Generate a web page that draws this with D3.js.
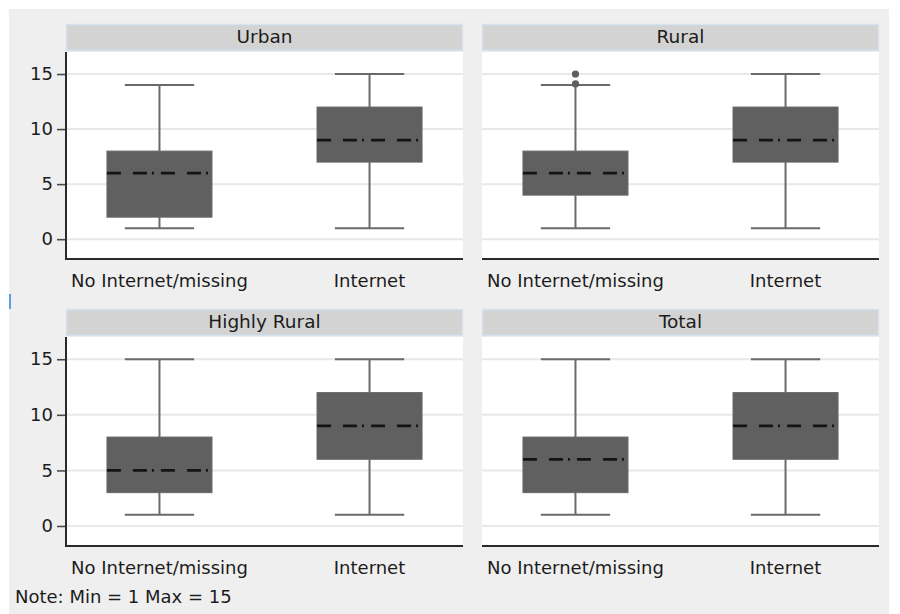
<!DOCTYPE html>
<html>
<head>
<meta charset="utf-8">
<script src="https://cdn.jsdelivr.net/npm/d3@7"></script>
<style>
  html, body { margin: 0; padding: 0; background: #ffffff; }
  svg { display: block; }
  text { font-family: "DejaVu Sans", sans-serif; fill: #1c1c1c; }
</style>
</head>
<body>
<svg id="chart" width="900" height="614"></svg>
<script>
// Panels (one per area type) and the two groups compared in each
const panels = ["Urban", "Rural", "Highly Rural", "Total"];
const categories = ["No Internet/missing", "Internet"];

// Box-plot summaries: one row per panel, one column per category
const lowerWhisker  = [[1, 1], [1, 1], [1, 1], [1, 1]];
const lowerQuartile = [[2, 7], [4, 7], [3, 6], [3, 6]];
const medians       = [[6, 9], [6, 9], [5, 9], [6, 9]];
const upperQuartile = [[8, 12], [8, 12], [8, 12], [8, 12]];
const upperWhisker  = [[14, 15], [14, 15], [15, 15], [15, 15]];
const outliers      = [[[], []], [[14.1, 15], []], [[], []], [[], []]];

const yTicks = [0, 5, 10, 15];
const yDomain = [-1.8, 17];
const noteText = "Note: Min = 1 Max = 15";

const svg = d3.select("#chart");

// Outer light-grey graph region
svg.append("rect").attr("x", 9).attr("y", 9).attr("width", 880).attr("height", 605)
  .attr("fill", "#efefef");
svg.append("rect").attr("x", 9).attr("y", 294).attr("width", 2).attr("height", 15)
  .attr("fill", "#5b9ee6");

// Panel grid geometry
const colX = [66, 482];
const panelW = 397;
const stripTop = [24, 309];
const stripH = 27;
const plotBottom = [259, 546];

panels.forEach((name, i) => {
  const col = i % 2, row = Math.floor(i / 2);
  const x0 = colX[col];
  const top = stripTop[row] + stripH + 1;
  const bottom = plotBottom[row];

  const g = svg.append("g");

  const x = d3.scalePoint().domain(categories).range([x0, x0 + panelW]).padding(0.445);
  const y = d3.scaleLinear().domain(yDomain).range([bottom, top]);
  const step = x.step();
  const boxW = step * 0.5;
  const capW = step * 0.33;

  // Strip header
  g.append("rect").attr("x", x0 + 0.5).attr("y", stripTop[row] + 0.5)
    .attr("width", panelW - 1).attr("height", stripH - 1)
    .attr("fill", "#d3d3d3").attr("stroke", "#d6e3ee").attr("stroke-width", 1.5);
  g.append("text").attr("x", x0 + panelW / 2).attr("y", stripTop[row] + stripH / 2 - 1.5)
    .attr("text-anchor", "middle").attr("dominant-baseline", "central")
    .style("font-size", "18.5px").text(name);

  // Plot area
  g.append("rect").attr("x", x0).attr("y", top).attr("width", panelW).attr("height", bottom - top)
    .attr("fill", "#ffffff");

  // Horizontal grid lines
  g.selectAll(".grid").data(yTicks).join("line")
    .attr("x1", x0).attr("x2", x0 + panelW)
    .attr("y1", d => y(d)).attr("y2", d => y(d))
    .attr("stroke", "#e8e8e8").attr("stroke-width", 2);

  // Boxes
  categories.forEach((cat, j) => {
    const cx = x(cat);
    const lo = lowerWhisker[i][j], q1 = lowerQuartile[i][j], md = medians[i][j],
          q3 = upperQuartile[i][j], hi = upperWhisker[i][j];
    const wcol = "#6a6a6a";
    // whiskers
    g.append("line").attr("x1", cx).attr("x2", cx).attr("y1", y(hi)).attr("y2", y(q3))
      .attr("stroke", wcol).attr("stroke-width", 2);
    g.append("line").attr("x1", cx).attr("x2", cx).attr("y1", y(q1)).attr("y2", y(lo))
      .attr("stroke", wcol).attr("stroke-width", 2);
    // caps
    [lo, hi].forEach(v => {
      g.append("line").attr("x1", cx - capW / 2).attr("x2", cx + capW / 2)
        .attr("y1", y(v)).attr("y2", y(v))
        .attr("stroke", wcol).attr("stroke-width", 2);
    });
    // interquartile box
    g.append("rect").attr("x", cx - boxW / 2).attr("y", y(q3))
      .attr("width", boxW).attr("height", y(q1) - y(q3))
      .attr("fill", "#606060").attr("stroke", "#686868").attr("stroke-width", 1);
    // median (dash-dot)
    g.append("line").attr("x1", cx - boxW / 2).attr("x2", cx + boxW / 2)
      .attr("y1", y(md)).attr("y2", y(md))
      .attr("stroke", "#141414").attr("stroke-width", 2.8)
      .attr("stroke-dasharray", "14,12,14,5,2,7");
    // outside values
    outliers[i][j].forEach(v => {
      g.append("circle").attr("cx", cx).attr("cy", y(v)).attr("r", 3.6)
        .attr("fill", "#5e5e5e");
    });
    // category label
    g.append("text").attr("x", cx).attr("y", bottom + 21)
      .attr("text-anchor", "middle").attr("dominant-baseline", "central")
      .style("font-size", "18px").text(cat);
  });

  // Axes
  g.append("line").attr("x1", x0).attr("x2", x0 + panelW).attr("y1", bottom).attr("y2", bottom)
    .attr("stroke", "#2a2a2a").attr("stroke-width", 2);
  if (col === 0) {
    const axis = d3.axisLeft(y).tickValues(yTicks).tickSize(9).tickPadding(4);
    const ag = g.append("g").attr("transform", `translate(${x0},0)`).call(axis);
    ag.select(".domain").remove();
    ag.selectAll(".tick line").attr("stroke", "#4a4a4a").attr("stroke-width", 1.6);
    ag.selectAll(".tick text").attr("fill", "#1c1c1c")
      .style("font-size", "18px").style("font-family", "'DejaVu Sans', sans-serif");
    g.append("line").attr("x1", x0).attr("x2", x0).attr("y1", top).attr("y2", bottom + 1)
      .attr("stroke", "#2a2a2a").attr("stroke-width", 2);
  }
});

// Footnote
svg.append("text").attr("x", 15).attr("y", 596).attr("dominant-baseline", "central")
  .style("font-size", "18px").text(noteText);
</script>
</body>
</html>
